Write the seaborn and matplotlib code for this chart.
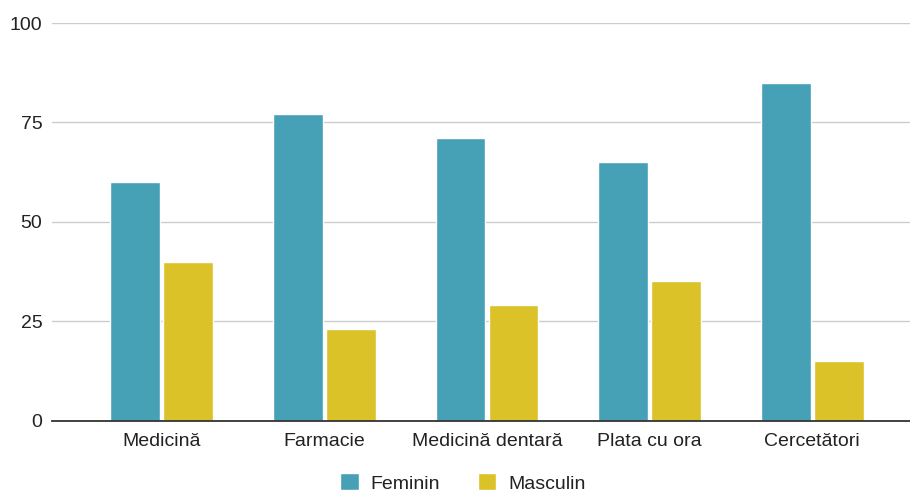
import matplotlib
matplotlib.use("Agg")
import matplotlib.pyplot as plt
import seaborn as sns
import pandas as pd

categories = ["Medicină", "Farmacie", "Medicină dentară", "Plata cu ora", "Cercetători"]
feminin = [60, 77, 71, 65, 85]
masculin = [40, 23, 29, 35, 15]
series_names = ["Feminin", "Masculin"]
y_ticks = [0, 25, 50, 75, 100]

colors = {"Feminin": "#46a1b7", "Masculin": "#dcc229"}

df = pd.DataFrame({
    "categorie": categories * 2,
    "valoare": feminin + masculin,
    "sex": [series_names[0]] * len(categories) + [series_names[1]] * len(categories),
})

sns.set_theme(style="white")
plt.rcParams["font.family"] = ["Liberation Sans", "DejaVu Sans"]

fig = plt.figure(figsize=(9.1, 4.92), dpi=100)
ax = fig.add_axes([52 / 910, 1 - 420.5 / 492, 1 - 52 / 910, (420.5 - 23) / 492])

sns.barplot(data=df, x="categorie", y="valoare", hue="sex", order=categories,
            hue_order=series_names, palette=colors, width=0.65, gap=0.06,
            saturation=1, ax=ax, legend=True)

ax.set_ylim(0, 100)
ax.set_xlim(-0.673, 4.6)
ax.set_yticks(y_ticks)
ax.set_yticklabels([str(t) for t in y_ticks])
ax.yaxis.grid(True, color="#cccccc", linewidth=1)
ax.set_axisbelow(True)
ax.set_xlabel("")
ax.set_ylabel("")
for side in ["top", "right", "left"]:
    ax.spines[side].set_visible(False)
ax.spines["bottom"].set_color("#333333")
ax.spines["bottom"].set_linewidth(1.3)
ax.tick_params(axis="both", length=0, labelsize=14, colors="#222222")
ax.tick_params(axis="x", pad=9)
ax.tick_params(axis="y", pad=7)

handles, labels = ax.get_legend_handles_labels()
ax.legend(handles, labels, loc="center", bbox_to_anchor=(463 / 910, 1 - 483 / 492),
          bbox_transform=fig.transFigure, ncol=2, frameon=False, fontsize=14,
          handlelength=0.95, handleheight=0.95, columnspacing=1.95, handletextpad=0.62,
          labelcolor="#222222")

fig.savefig("out.png", dpi=100)
